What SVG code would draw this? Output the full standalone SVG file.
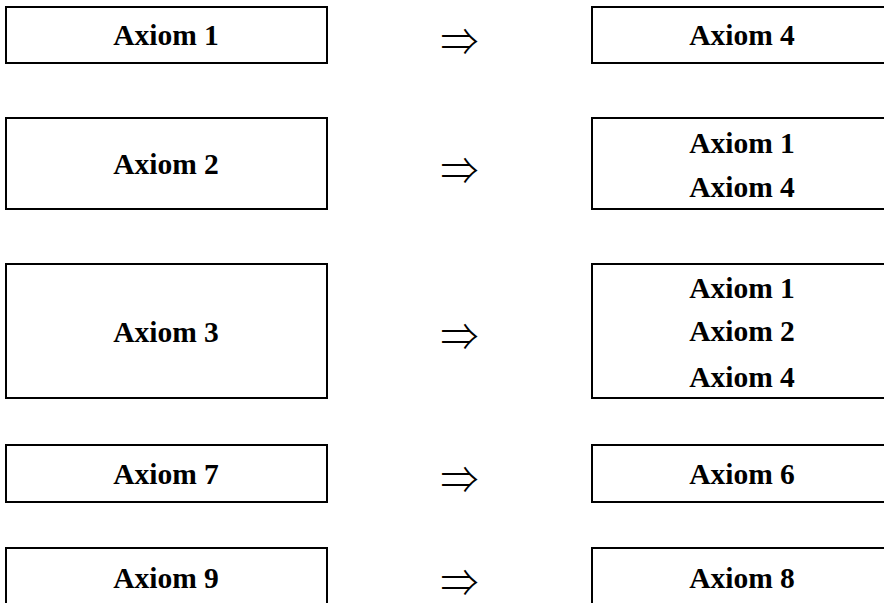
<svg xmlns="http://www.w3.org/2000/svg" width="884" height="603" viewBox="0 0 884 603">
<style>
.box{fill:#fff;stroke:#000;stroke-width:2}
.t{font-family:"Liberation Serif","Times New Roman",serif;font-weight:bold;font-size:29.5px;text-anchor:middle;fill:#000}
.arr{font-family:"Noto Sans CJK JP","DejaVu Sans",sans-serif;font-weight:300;font-size:38px;text-anchor:middle;fill:#000}
</style>
<rect width="884" height="603" fill="#fff"/>
<g id="left1"><rect class="box" x="6" y="7" width="321" height="56"/><text class="t" x="166" y="45">Axiom 1</text></g>
<g id="left2"><rect class="box" x="6" y="118" width="321" height="91"/><text class="t" x="166" y="174">Axiom 2</text></g>
<g id="left3"><rect class="box" x="6" y="264" width="321" height="134"/><text class="t" x="166" y="342">Axiom 3</text></g>
<g id="left4"><rect class="box" x="6" y="445" width="321" height="57"/><text class="t" x="166" y="484">Axiom 7</text></g>
<g id="left5"><rect class="box" x="6" y="548" width="321" height="60"/><text class="t" x="166" y="588">Axiom 9</text></g>
<g id="right1"><rect class="box" x="592" y="7" width="301" height="56"/><text class="t" x="742" y="45">Axiom 4</text></g>
<g id="right2"><rect class="box" x="592" y="118" width="301" height="91"/><text class="t" x="742" y="153">Axiom 1</text><text class="t" x="742" y="197">Axiom 4</text></g>
<g id="right3"><rect class="box" x="592" y="264" width="301" height="134"/><text class="t" x="742" y="297.5">Axiom 1</text><text class="t" x="742" y="341">Axiom 2</text><text class="t" x="742" y="386.5">Axiom 4</text></g>
<g id="right4"><rect class="box" x="592" y="445" width="301" height="57"/><text class="t" x="742" y="484">Axiom 6</text></g>
<g id="right5"><rect class="box" x="592" y="548" width="301" height="60"/><text class="t" x="742" y="588">Axiom 8</text></g>
<g id="connectors">
<text class="arr" x="459.5" y="38.5" dominant-baseline="central">⇒</text>
<text class="arr" x="459.5" y="167.5" dominant-baseline="central">⇒</text>
<text class="arr" x="459.5" y="333.5" dominant-baseline="central">⇒</text>
<text class="arr" x="459.5" y="476.5" dominant-baseline="central">⇒</text>
<text class="arr" x="459.5" y="579.5" dominant-baseline="central">⇒</text>
</g>
</svg>
